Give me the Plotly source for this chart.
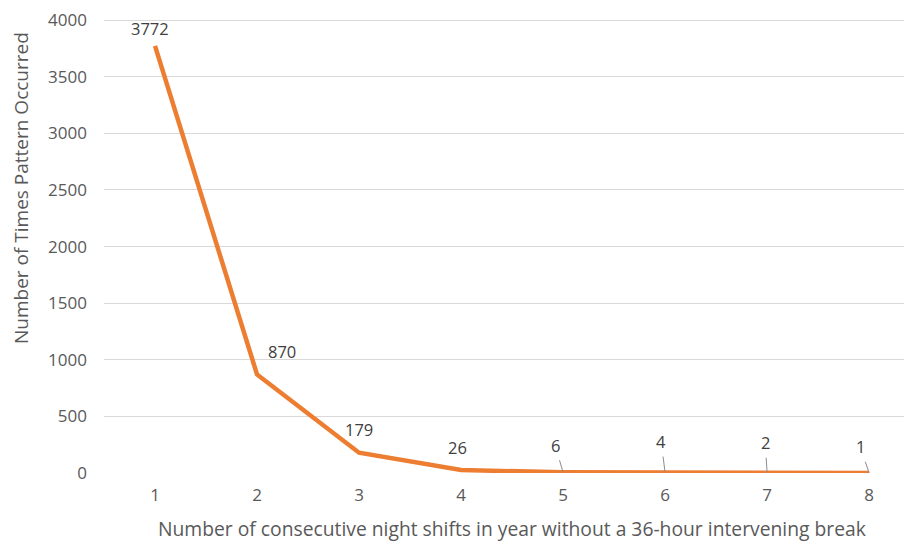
import plotly.graph_objects as go

categories = [1, 2, 3, 4, 5, 6, 7, 8]
counts = [3772, 870, 179, 26, 6, 4, 2, 1]
y_ticks = [0, 500, 1000, 1500, 2000, 2500, 3000, 3500, 4000]
x_title = "Number of consecutive night shifts in year without a 36-hour intervening break"
y_title = "Number of Times Pattern Occurred"

FONT = "Open Sans"
TICK_COLOR = "#595959"
LABEL_COLOR = "#404040"

# the page body has an 8px margin, so the figure is drawn 8px in from the window edge
OFF = 8
PLOT_L, PLOT_T, PLOT_B = 104, 19, 473  # window pixels

fig = go.Figure()
fig.add_trace(go.Scatter(
    x=categories, y=counts, mode="lines",
    line=dict(color="#ED7D31", width=4.5),
    hoverinfo="x+y", showlegend=False,
))

plain_offsets = {0: (-5, 17), 1: (25, 23), 2: (0, 23), 3: (-4, 23)}
leader_offsets = {4: (-8, -27), 5: (-4, -31), 6: (-2, -30), 7: (-9, -26)}
for i, (c, v) in enumerate(zip(categories, counts)):
    if i in plain_offsets:
        xs, ys = plain_offsets[i]
        fig.add_annotation(x=c, y=v, text=str(v), showarrow=False,
                           xshift=xs, yshift=ys,
                           font=dict(family=FONT, size=16.5, color=LABEL_COLOR))
    else:
        ax, ay = leader_offsets[i]
        fig.add_annotation(x=c, y=v, text=str(v), showarrow=True,
                           ax=ax, ay=ay, arrowhead=0, arrowwidth=1,
                           arrowcolor="#8c8c8c", standoff=0, startstandoff=2,
                           font=dict(family=FONT, size=16.5, color=LABEL_COLOR))

fig.add_annotation(text=x_title, xref="paper", yref="paper", x=0, y=0,
                   xanchor="center", yanchor="middle",
                   xshift=512 - PLOT_L, yshift=-(528 - PLOT_B), showarrow=False,
                   font=dict(family=FONT, size=19.3, color=TICK_COLOR))
fig.add_annotation(text=y_title, xref="paper", yref="paper", x=0, y=0,
                   xanchor="center", yanchor="middle",
                   xshift=21 - PLOT_L, yshift=PLOT_B - 188,
                   textangle=-90, showarrow=False,
                   font=dict(family=FONT, size=19, color=TICK_COLOR))

fig.update_xaxes(range=[0.5, 8.42], tickvals=categories,
                 ticktext=[str(c) for c in categories],
                 showgrid=False, zeroline=False, showline=False,
                 automargin=False, ticklabelstandoff=10,
                 tickfont=dict(family=FONT, size=17, color=TICK_COLOR))
fig.update_yaxes(range=[0, 4010], tickvals=y_ticks,
                 showgrid=True, gridcolor="#d9d9d9", gridwidth=1,
                 zeroline=False, showline=False,
                 automargin=False, ticklabelstandoff=16,
                 ticklabeloverflow="allow",
                 tickfont=dict(family=FONT, size=17, color=TICK_COLOR))

W, H = 912 - OFF, 542 - OFF
fig.update_layout(
    width=W, height=H,
    margin=dict(l=PLOT_L - OFF, r=0, t=PLOT_T - OFF, b=H - (PLOT_B - OFF),
                autoexpand=False),
    plot_bgcolor="white", paper_bgcolor="white",
)

fig.write_html("out.html")
